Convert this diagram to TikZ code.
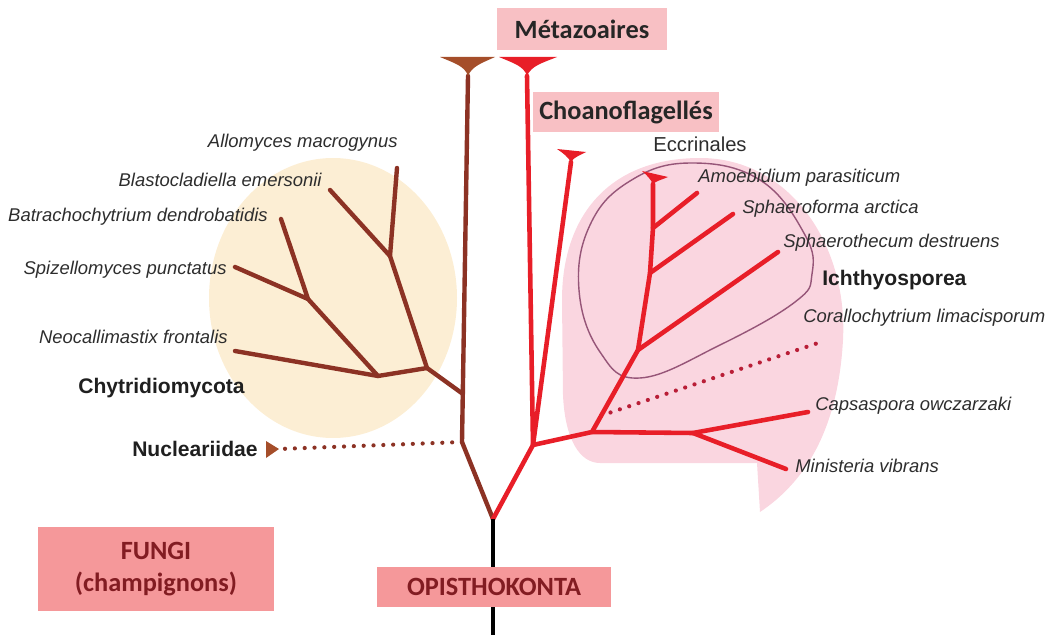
\documentclass[tikz,border=0pt]{standalone}
\usepackage{fontspec}
\setmainfont{Liberation Sans}
\newfontfamily\tagfont{Carlito}
\usetikzlibrary{positioning, calc}
\definecolor{fungiBrown}{RGB}{140,50,36}
\definecolor{capBrown}{RGB}{165,78,42}
\definecolor{holoRed}{RGB}{232,30,40}
\definecolor{dotRed}{RGB}{185,30,55}
\definecolor{fungiCream}{RGB}{252,238,212}
\definecolor{holoPink}{RGB}{250,214,224}
\definecolor{eccrPurple}{RGB}{150,85,120}
\definecolor{tagLight}{RGB}{248,192,196}
\definecolor{tagSalmon}{RGB}{245,152,154}
\definecolor{tagText}{RGB}{130,28,34}
\definecolor{labelGrey}{RGB}{45,45,45}

\begin{document}
\begin{tikzpicture}[x=0.02cm, y=-0.02cm,
  brb/.style={draw=fungiBrown, line width=2.5pt, line cap=round, line join=round},
  rdb/.style={draw=holoRed, line width=2.6pt, line cap=round, line join=round},
  dotl/.style={line width=2.4pt, line cap=round, dash pattern=on 0pt off 5.6pt},
  sp/.style={inner sep=0pt, text=labelGrey, font=\fontsize{10.5}{12}\selectfont\itshape},
  grp/.style={inner sep=0pt, text=black!88, font=\fontsize{12}{14}\selectfont\bfseries},
  tag/.style={inner sep=0pt, align=center, font=\tagfont\bfseries\fontsize{15}{18}\selectfont}]
  \useasboundingbox (0,0) rectangle (1049,635);

  % background zones
  \fill[fungiCream] (333,298) ellipse [x radius=124, y radius=140];
  \fill[holoPink] (600,463) -- (757,463) -- (760,512)
     .. controls (805,482) and (838,430) .. (843,340)
     .. controls (848,245) and (790,158) .. (700,158)
     .. controls (610,158) and (562,215) .. (562,300)
     -- (563,395) .. controls (565,440) and (580,463) .. (600,463) -- cycle;
  \draw[eccrPurple, line width=0.8pt] plot[smooth cycle, tension=0.7] coordinates
     {(640,378) (600,352) (579,290) (590,225) (630,181) (690,163) (760,180)
      (805,235) (812,274) (795,302) (720,345)};

  % tree points
  \coordinate (root) at (493,519);   \coordinate (rootEnd) at (493,635);
  \coordinate (nucJ) at (462,442);   \coordinate (mTopB) at (468,76);
  \coordinate (fJ) at (463,394);     \coordinate (fA) at (427,368);
  \coordinate (fB) at (390,256);     \coordinate (fC) at (378,376);
  \coordinate (fD) at (308,299);
  \coordinate (tAllo) at (397,168);  \coordinate (tBlas) at (330,190);
  \coordinate (tBatr) at (281,219);  \coordinate (tSpiz) at (235,267);
  \coordinate (tNeo) at (235,351);   \coordinate (nucTip) at (279,449);
  \coordinate (redJ) at (533,445);   \coordinate (mTopR) at (527,76);
  \coordinate (choTop) at (571,162); \coordinate (holoJ) at (592,432);
  \coordinate (capJ) at (693,433);   \coordinate (tCaps) at (808,412);
  \coordinate (tMini) at (786,469);  \coordinate (iJ1) at (638,350);
  \coordinate (iJ2) at (650,273);    \coordinate (iJ3) at (653,228);
  \coordinate (eccTop) at (653,184); \coordinate (tSthe) at (778,252);
  \coordinate (tSfor) at (733,214);  \coordinate (tAmoe) at (697,193);
  \coordinate (coraS) at ($(holoJ)!0.2!(iJ1)$); \coordinate (coraE) at (818,343);

  % fungi side
  \draw[dotl, fungiBrown] (nucJ) -- (nucTip);
  \draw[brb] (root) -- (nucJ) -- (mTopB);
  \draw[brb] (fJ) -- (fA) -- (fB) -- (tAllo); \draw[brb] (fB) -- (tBlas);
  \draw[brb] (fA) -- (fC) -- (tNeo);
  \draw[brb] (fC) -- (fD) -- (tBatr); \draw[brb] (fD) -- (tSpiz);
  \fill[capBrown] (440,57) -- (495,57) .. controls (482,63) and (472,66) .. (mTopB)
     .. controls (465,66) and (454,63) .. (440,57) -- cycle;
  \fill[capBrown] (266,441) -- (266,458) -- (nucTip) -- cycle;

  % holozoa side
  \draw[dotl, dotRed] (coraS) -- (coraE);
  \draw[rdb] (root) -- (redJ) -- (mTopR); \draw[rdb] (redJ) -- (choTop);
  \draw[rdb] (redJ) -- (holoJ) -- (capJ) -- (tCaps); \draw[rdb] (capJ) -- (tMini);
  \draw[rdb] (holoJ) -- (iJ1) -- (iJ2) -- (iJ3) -- (eccTop);
  \draw[rdb] (iJ1) -- (tSthe); \draw[rdb] (iJ2) -- (tSfor); \draw[rdb] (iJ3) -- (tAmoe);
  \fill[holoRed] (499,57) -- (557,57) .. controls (542,63) and (531,66) .. (mTopR)
     .. controls (524,66) and (513,63) .. (499,57) -- cycle;
  \fill[holoRed] (557,149) -- (586,152) .. controls (579,156) and (574,157) .. (choTop)
     .. controls (568,157) and (563,153) .. (557,149) -- cycle;
  \fill[holoRed] (642,171) -- (668,177) .. controls (661,180) and (656,181) .. (eccTop)
     .. controls (651,180) and (647,175) .. (642,171) -- cycle;

  \draw[line width=2.2pt] (root) -- (rootEnd);

  % labels
  \node[sp, anchor=east] (lAllo) at (398,143) {Allomyces macrogynus};
  \node[sp, anchor=east] (lBlas) at (322,180) {Blastocladiella emersonii};
  \node[sp, anchor=east] (lBatr) at (268,217) {Batrachochytrium dendrobatidis};
  \node[sp, anchor=east] (lSpiz) at (227,270) {Spizellomyces punctatus};
  \node[sp, anchor=east] (lNeo) at (228,337) {Neocallimastix frontalis};
  \node[grp, anchor=east] (lChyt) at (245,388) {Chytridiomycota};
  \node[grp, anchor=east] (lNuc) at (258,449) {Nucleariidae};
  \node[inner sep=0pt, text=labelGrey, font=\fontsize{11.5}{13}\selectfont] (lEcc) at (700,144) {Eccrinales};
  \node[sp, anchor=west] (lAmoe) at (698,178) {Amoebidium parasiticum};
  \node[sp, anchor=west] (lSfor) at (742,209) {Sphaeroforma arctica};
  \node[sp, anchor=west] (lSthe) at (783,243) {Sphaerothecum destruens};
  \node[grp, anchor=west] (lIch) at (822,280) {Ichthyosporea};
  \node[sp, anchor=west] (lCora) at (803,318) {Corallochytrium limacisporum};
  \node[sp, anchor=west] (lCaps) at (815,406) {Capsaspora owczarzaki};
  \node[sp, anchor=west] (lMini) at (795,466) {Ministeria vibrans};

  % group tags
  \node[tag, fill=tagLight, text=black!85, minimum width=3.42cm, minimum height=0.84cm] (metaTag) at (582,29) {Métazoaires};
  \node[tag, fill=tagLight, text=black!85, minimum width=3.74cm, minimum height=0.82cm] (choTag) at (626,112) {Choanoflagellés};
  \node[tag, fill=tagSalmon, text=tagText, minimum width=4.74cm, minimum height=1.7cm] (fungiTag) at (156,569) {FUNGI\\(champignons)};
  \node[tag, fill=tagSalmon, text=tagText, minimum width=4.7cm, minimum height=0.82cm] (opisTag) at (494,587) {OPISTHOKONTA};
\end{tikzpicture}
\end{document}
